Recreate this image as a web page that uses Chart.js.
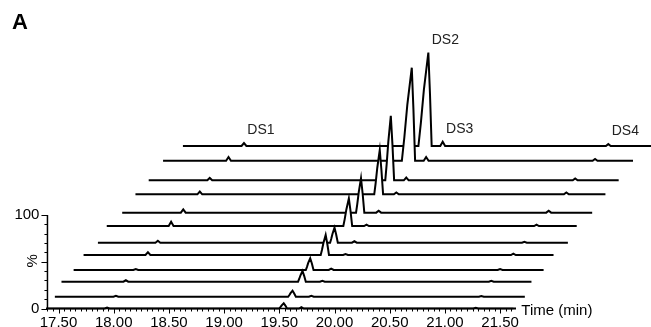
<!DOCTYPE html>
<html>
<head>
<meta charset="utf-8">
<script src="https://cdn.jsdelivr.net/npm/chart.js@4.4.1/dist/chart.umd.min.js"></script>
<style>
  html, body { margin: 0; padding: 0; background: #fff; }
  #chromatogram { display: block; }
</style>
</head>
<body>
<canvas id="chromatogram" width="651" height="327"></canvas>
<script>
// Stacked chromatograms, front run first. Each run is shifted right (min) and lifted (%).
const runShift = [0, 0.08, 0.14, 0.25, 0.34, 0.47, 0.55, 0.69, 0.81, 0.93, 1.06, 1.24];
const runLift = [0, 12.6, 28.7, 41.2, 57.2, 70.4, 88.2, 102.5, 122.1, 137.1, 158.0, 173.8];
const runWindow = [17.387, 21.644];

// Peak retention times (min) and heights (%) per run
const ds1Time = [17.94, 17.94, 17.97, 17.95, 17.97, 17.93, 17.97, 17.94, 17.97, 17.94, 17.98, 17.94];
const ds1Height = [1, 1, 1.5, 1, 3, 2, 4.5, 3.5, 3, 2.5, 4, 3.2];
const ds2Time = [19.54, 19.54, 19.57, 19.53, 19.58, 19.53, 19.58, 19.55, 19.60, 19.58, 19.64, 19.61];
const ds2Height = [5.6, 6.4, 11.4, 12.5, 21.4, 16.0, 29.6, 36.8, 47.4, 69.0, 99.5, 100];
const ds2Front = [0.04, 0.04, 0.04, 0.04, 0.045, 0.04, 0.05, 0.045, 0.05, 0.05, 0.09, 0.09];
const ds3Time = [19.70, 19.71, 19.75, 19.72, 19.76, 19.71, 19.74, 19.71, 19.75, 19.72, 19.77, 19.74];
const ds3Height = [1.5, 1, 1, 1.5, 1, 1.5, 1.5, 2, 2, 3, 4, 4.6];
const ds4Time = [21.28, 21.25, 21.28, 21.25, 21.28, 21.25, 21.28, 21.25, 21.29, 21.25, 21.30, 21.24];
const ds4Height = [0.8, 0.8, 1, 1, 1.5, 1, 1.5, 2, 2, 2, 2, 2];
const peakNames = ["DS1", "DS2", "DS3", "DS4"];

// Axis ticks
const timeTicks = [17.5, 18.0, 18.5, 19.0, 19.5, 20.0, 20.5, 21.0, 21.5];
const timeRange = [17.40, 21.62];
const percentTicks = [0, 50, 100];
const percentLabels = ["0", "%", "100"];

// DS2 flank profile: [offset in front/tail widths, fraction of height]
const ds2Rise = [[-1, 0], [-0.75, 0.25], [-0.45, 0.6], [0, 1]];
const ds2Fall = [[0.5, 0.55], [1, 0]];
const ds2Tail = 0.03;
const smallHalfWidth = 0.022;

const FONT = "'Liberation Sans', Arial, sans-serif";

function runPoints(i) {
  let pts = [{ x: runWindow[0], y: 0 }, { x: runWindow[1], y: 0 }];
  // minor peaks as narrow spikes
  [[ds1Time, ds1Height], [ds3Time, ds3Height], [ds4Time, ds4Height]].forEach(([t, h]) => {
    pts.push({ x: t[i] - smallHalfWidth, y: 0 });
    pts.push({ x: t[i], y: h[i] });
    pts.push({ x: t[i] + smallHalfWidth, y: 0 });
  });
  ds2Rise.forEach(([f, r]) => pts.push({ x: ds2Time[i] + f * ds2Front[i], y: r * ds2Height[i] }));
  ds2Fall.forEach(([f, r]) => pts.push({ x: ds2Time[i] + f * ds2Tail, y: r * ds2Height[i] }));
  pts.sort((a, b) => a.x - b.x);
  return pts.map((p) => ({ x: p.x + runShift[i], y: p.y + runLift[i] }));
}

const datasets = runShift.map((s, i) => ({
  data: runPoints(i),
  borderColor: "#000",
  borderWidth: 2,
  backgroundColor: "#fff",
  fill: { value: runLift[i] },
  pointRadius: 0,
  tension: 0,
}));

// Axes, tick marks and labels drawn through the chart's scales
const axesPlugin = {
  id: "chromAxes",
  afterDatasetsDraw(chart) {
    const { ctx, scales } = chart;
    const xs = scales.x, ys = scales.y;
    const y0 = ys.getPixelForValue(0);
    const xAxis0 = xs.getPixelForValue(timeRange[0]);
    ctx.save();
    ctx.strokeStyle = "#000";
    ctx.fillStyle = "#000";
    ctx.lineWidth = 1.5;

    // time axis
    ctx.beginPath();
    ctx.moveTo(xAxis0, y0);
    ctx.lineTo(xs.getPixelForValue(timeRange[1]), y0);
    ctx.stroke();
    ctx.lineWidth = 1;
    for (let k = 0; timeRange[0] + k * 0.05 <= timeRange[1] + 1e-6; k++) {
      const t = timeRange[0] + k * 0.05;
      const major = timeTicks.some((v) => Math.abs(v - t) < 1e-6);
      const px = Math.round(xs.getPixelForValue(t)) + 0.5;
      ctx.beginPath();
      ctx.moveTo(px, y0);
      ctx.lineTo(px, y0 + (major ? 5 : 3));
      ctx.stroke();
    }
    ctx.font = "15px " + FONT;
    ctx.textAlign = "center";
    ctx.textBaseline = "alphabetic";
    timeTicks.forEach((t) => ctx.fillText(t.toFixed(2), xs.getPixelForValue(t), 326.5));
    ctx.textAlign = "left";
    ctx.fillText("Time (min)", xs.getPixelForValue(timeRange[1]) + 8, 314.5);

    // intensity axis
    ctx.lineWidth = 1.5;
    ctx.beginPath();
    ctx.moveTo(xAxis0, y0);
    ctx.lineTo(xAxis0, ys.getPixelForValue(100));
    ctx.stroke();
    ctx.lineWidth = 1;
    for (let v = 0; v <= 100; v += 10) {
      const major = percentTicks.includes(v);
      const py = Math.round(ys.getPixelForValue(v)) + 0.5;
      ctx.beginPath();
      ctx.moveTo(xAxis0, py);
      ctx.lineTo(xAxis0 - (major ? 6 : 3), py);
      ctx.stroke();
    }
    ctx.textAlign = "right";
    percentTicks.forEach((v, k) => {
      if (percentLabels[k] === "%") return;
      ctx.fillText(percentLabels[k], xAxis0 - 8, ys.getPixelForValue(v) + 4);
    });
    ctx.save();
    ctx.translate(xAxis0 - 15, ys.getPixelForValue(50) - 1);
    ctx.rotate(-Math.PI / 2);
    ctx.textAlign = "center";
    ctx.textBaseline = "middle";
    ctx.fillText("%", 0, 0);
    ctx.restore();

    // peak names over the back run
    const back = runShift.length - 1;
    const tops = [
      [ds1Time[back], ds1Height[back]],
      [ds2Time[back], ds2Height[back]],
      [ds3Time[back], ds3Height[back]],
      [ds4Time[back], ds4Height[back]],
    ];
    ctx.font = "14px " + FONT;
    ctx.textAlign = "center";
    ctx.textBaseline = "middle";
    ctx.fillStyle = "#222";
    tops.forEach(([t, h], k) => {
      const px = xs.getPixelForValue(t + runShift[back]) + 17;
      const py = ys.getPixelForValue(h + runLift[back]) - 12.5;
      ctx.fillText(peakNames[k], px, py);
    });

    // panel letter
    ctx.fillStyle = "#000";
    ctx.font = "bold 22px " + FONT;
    ctx.textAlign = "left";
    ctx.textBaseline = "alphabetic";
    ctx.fillText("A", 12, 29);
    ctx.restore();
  },
};

new Chart(document.getElementById("chromatogram"), {
  type: "line",
  data: { datasets },
  options: {
    responsive: false,
    animation: false,
    devicePixelRatio: 1,
    layout: { padding: 0 },
    scales: {
      x: { type: "linear", min: 16.9701, max: 22.8668, display: false },
      y: { type: "linear", min: -19.786, max: 329.95, display: false },
    },
    plugins: { legend: { display: false }, tooltip: { enabled: false } },
  },
  plugins: [axesPlugin],
});
</script>
</body>
</html>
